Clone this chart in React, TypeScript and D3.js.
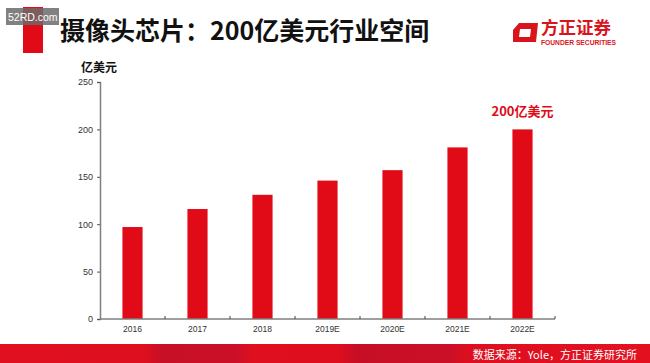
import React, { useEffect, useRef } from 'react';
import * as d3 from 'd3';

// chart data
const years = ['2016', '2017', '2018', '2019E', '2020E', '2021E', '2022E'];
const marketSize = [97, 116, 131, 146, 157, 181, 200];
const yTicks = [0, 50, 100, 150, 200, 250];

const title = '摄像头芯片：200亿美元行业空间';
const unitLabel = '亿美元';
const highlightLabel = '200亿美元';
const sourceNote = '数据来源：Yole，方正证券研究所';

const RED = '#e10a17';
const CJK = '"Noto Sans CJK SC", "Noto Sans", sans-serif';
const LATIN = '"Liberation Sans", Arial, sans-serif';

export default function App() {
  const ref = useRef<SVGSVGElement>(null);

  useEffect(() => {
    const w = 650;
    const h = 363;
    const svg = d3.select(ref.current);
    svg.selectAll('*').remove();

    svg.append('rect').attr('width', w).attr('height', h).attr('fill', '#ffffff');

    // header
    svg.append('rect').attr('x', 23).attr('y', 7).attr('width', 20).attr('height', 46).attr('fill', RED);
    svg.append('text')
      .attr('x', 60).attr('y', 40)
      .style('font-family', CJK).style('font-size', '25px').style('font-weight', 700)
      .attr('fill', '#111')
      .text(title);

    // watermark
    svg.append('rect').attr('x', 6).attr('y', 8).attr('width', 53).attr('height', 17)
      .attr('fill', '#6b6b6b').attr('opacity', 0.85);
    svg.append('text')
      .attr('x', 8).attr('y', 20.5)
      .style('font-family', LATIN).style('font-size', '10.5px')
      .attr('fill', '#ffffff')
      .text('52RD.com');

    // logo
    const logo = svg.append('g');
    logo.append('path')
      .attr('d', 'M519,23 L538,23 L536,42 L513,42 L513,30 Z M520,29 L531,29 L530,37 L519,37 Z')
      .attr('fill', '#d9141c').attr('fill-rule', 'evenodd');
    logo.append('text')
      .attr('x', 541).attr('y', 33.5)
      .style('font-family', CJK).style('font-size', '17.5px').style('font-weight', 700)
      .attr('fill', '#d9141c')
      .text('方正证券');
    logo.append('text')
      .attr('x', 541).attr('y', 44.5).attr('textLength', 75).attr('lengthAdjust', 'spacingAndGlyphs')
      .style('font-family', LATIN).style('font-size', '6.5px').style('font-weight', 700)
      .attr('fill', '#d9141c')
      .text('FOUNDER SECURITIES');

    // scales
    const x = d3.scaleBand<string>()
      .domain(years)
      .range([100, 555])
      .paddingInner(0.69)
      .paddingOuter(0.345);
    const y = d3.scaleLinear().domain([0, 250]).range([319, 82]);

    svg.append('text')
      .attr('x', 81).attr('y', 72)
      .style('font-family', CJK).style('font-size', '12px').style('font-weight', 700)
      .attr('fill', '#111')
      .text(unitLabel);

    // bars
    svg.append('g').selectAll('rect')
      .data(marketSize)
      .enter()
      .append('rect')
      .attr('x', (d, i) => x(years[i])!)
      .attr('y', d => y(d))
      .attr('width', x.bandwidth())
      .attr('height', d => y(0) - y(d))
      .attr('fill', RED);

    // y axis
    const yAxis = svg.append('g')
      .attr('transform', 'translate(100,0)')
      .call(d3.axisLeft(y).tickValues(yTicks).tickSize(3).tickPadding(4));
    yAxis.select('.domain').attr('stroke', '#7f7f7f').attr('stroke-width', 1.5);
    yAxis.selectAll('.tick line').attr('stroke', '#555');
    yAxis.selectAll('.tick text')
      .style('font-family', LATIN).style('font-size', '9px').attr('fill', '#333');

    // x axis: ticks between categories, pointing up
    const xAxis = svg.append('g').attr('transform', `translate(0,${y(0)})`);
    xAxis.append('line')
      .attr('x1', 100).attr('x2', 555)
      .attr('stroke', '#7f7f7f').attr('stroke-width', 1.5);
    xAxis.selectAll('line.tick')
      .data(years)
      .enter()
      .append('line')
      .attr('class', 'tick')
      .attr('x1', (d) => x(d)! + x.bandwidth() + (x.step() - x.bandwidth()) / 2)
      .attr('x2', (d) => x(d)! + x.bandwidth() + (x.step() - x.bandwidth()) / 2)
      .attr('y1', 0).attr('y2', -3)
      .attr('stroke', '#444');
    xAxis.selectAll('text')
      .data(years)
      .enter()
      .append('text')
      .attr('x', d => x(d)! + x.bandwidth() / 2)
      .attr('y', 13)
      .attr('text-anchor', 'middle')
      .style('font-family', LATIN).style('font-size', '8.5px')
      .attr('fill', '#333')
      .text(d => d);

    // highlight label on last bar
    const last = years[years.length - 1];
    svg.append('text')
      .attr('x', x(last)! + x.bandwidth() / 2)
      .attr('y', y(marketSize[marketSize.length - 1]) - 13)
      .attr('text-anchor', 'middle')
      .style('font-family', CJK).style('font-size', '13px').style('font-weight', 700)
      .attr('fill', RED)
      .text(highlightLabel);

    // footer band
    const grad = svg.append('defs').append('linearGradient')
      .attr('id', 'footer').attr('x1', 0).attr('x2', 1).attr('y1', 0).attr('y2', 0);
    [
      [0, '#e01020'], [0.22, '#de0f1f'], [0.25, '#c70f25'], [0.36, '#c91027'],
      [0.39, '#e00f1f'], [0.52, '#df0e1e'], [0.55, '#c60e24'], [0.69, '#ca1026'],
      [0.72, '#dd0f1f'], [1, '#e31020'],
    ].forEach(([o, c]) => grad.append('stop').attr('offset', o as number).attr('stop-color', c as string));
    svg.append('rect').attr('x', 0).attr('y', 344).attr('width', w).attr('height', 19).attr('fill', 'url(#footer)');
    svg.append('text')
      .attr('x', 637).attr('y', 358.5).attr('text-anchor', 'end')
      .style('font-family', CJK).style('font-size', '11px')
      .attr('fill', '#ffffff')
      .text(sourceNote);
  }, []);

  return (
    <svg
      ref={ref}
      width={650}
      height={363}
      style={{ position: 'absolute', left: 0, top: 0, display: 'block' }}
    />
  );
}
